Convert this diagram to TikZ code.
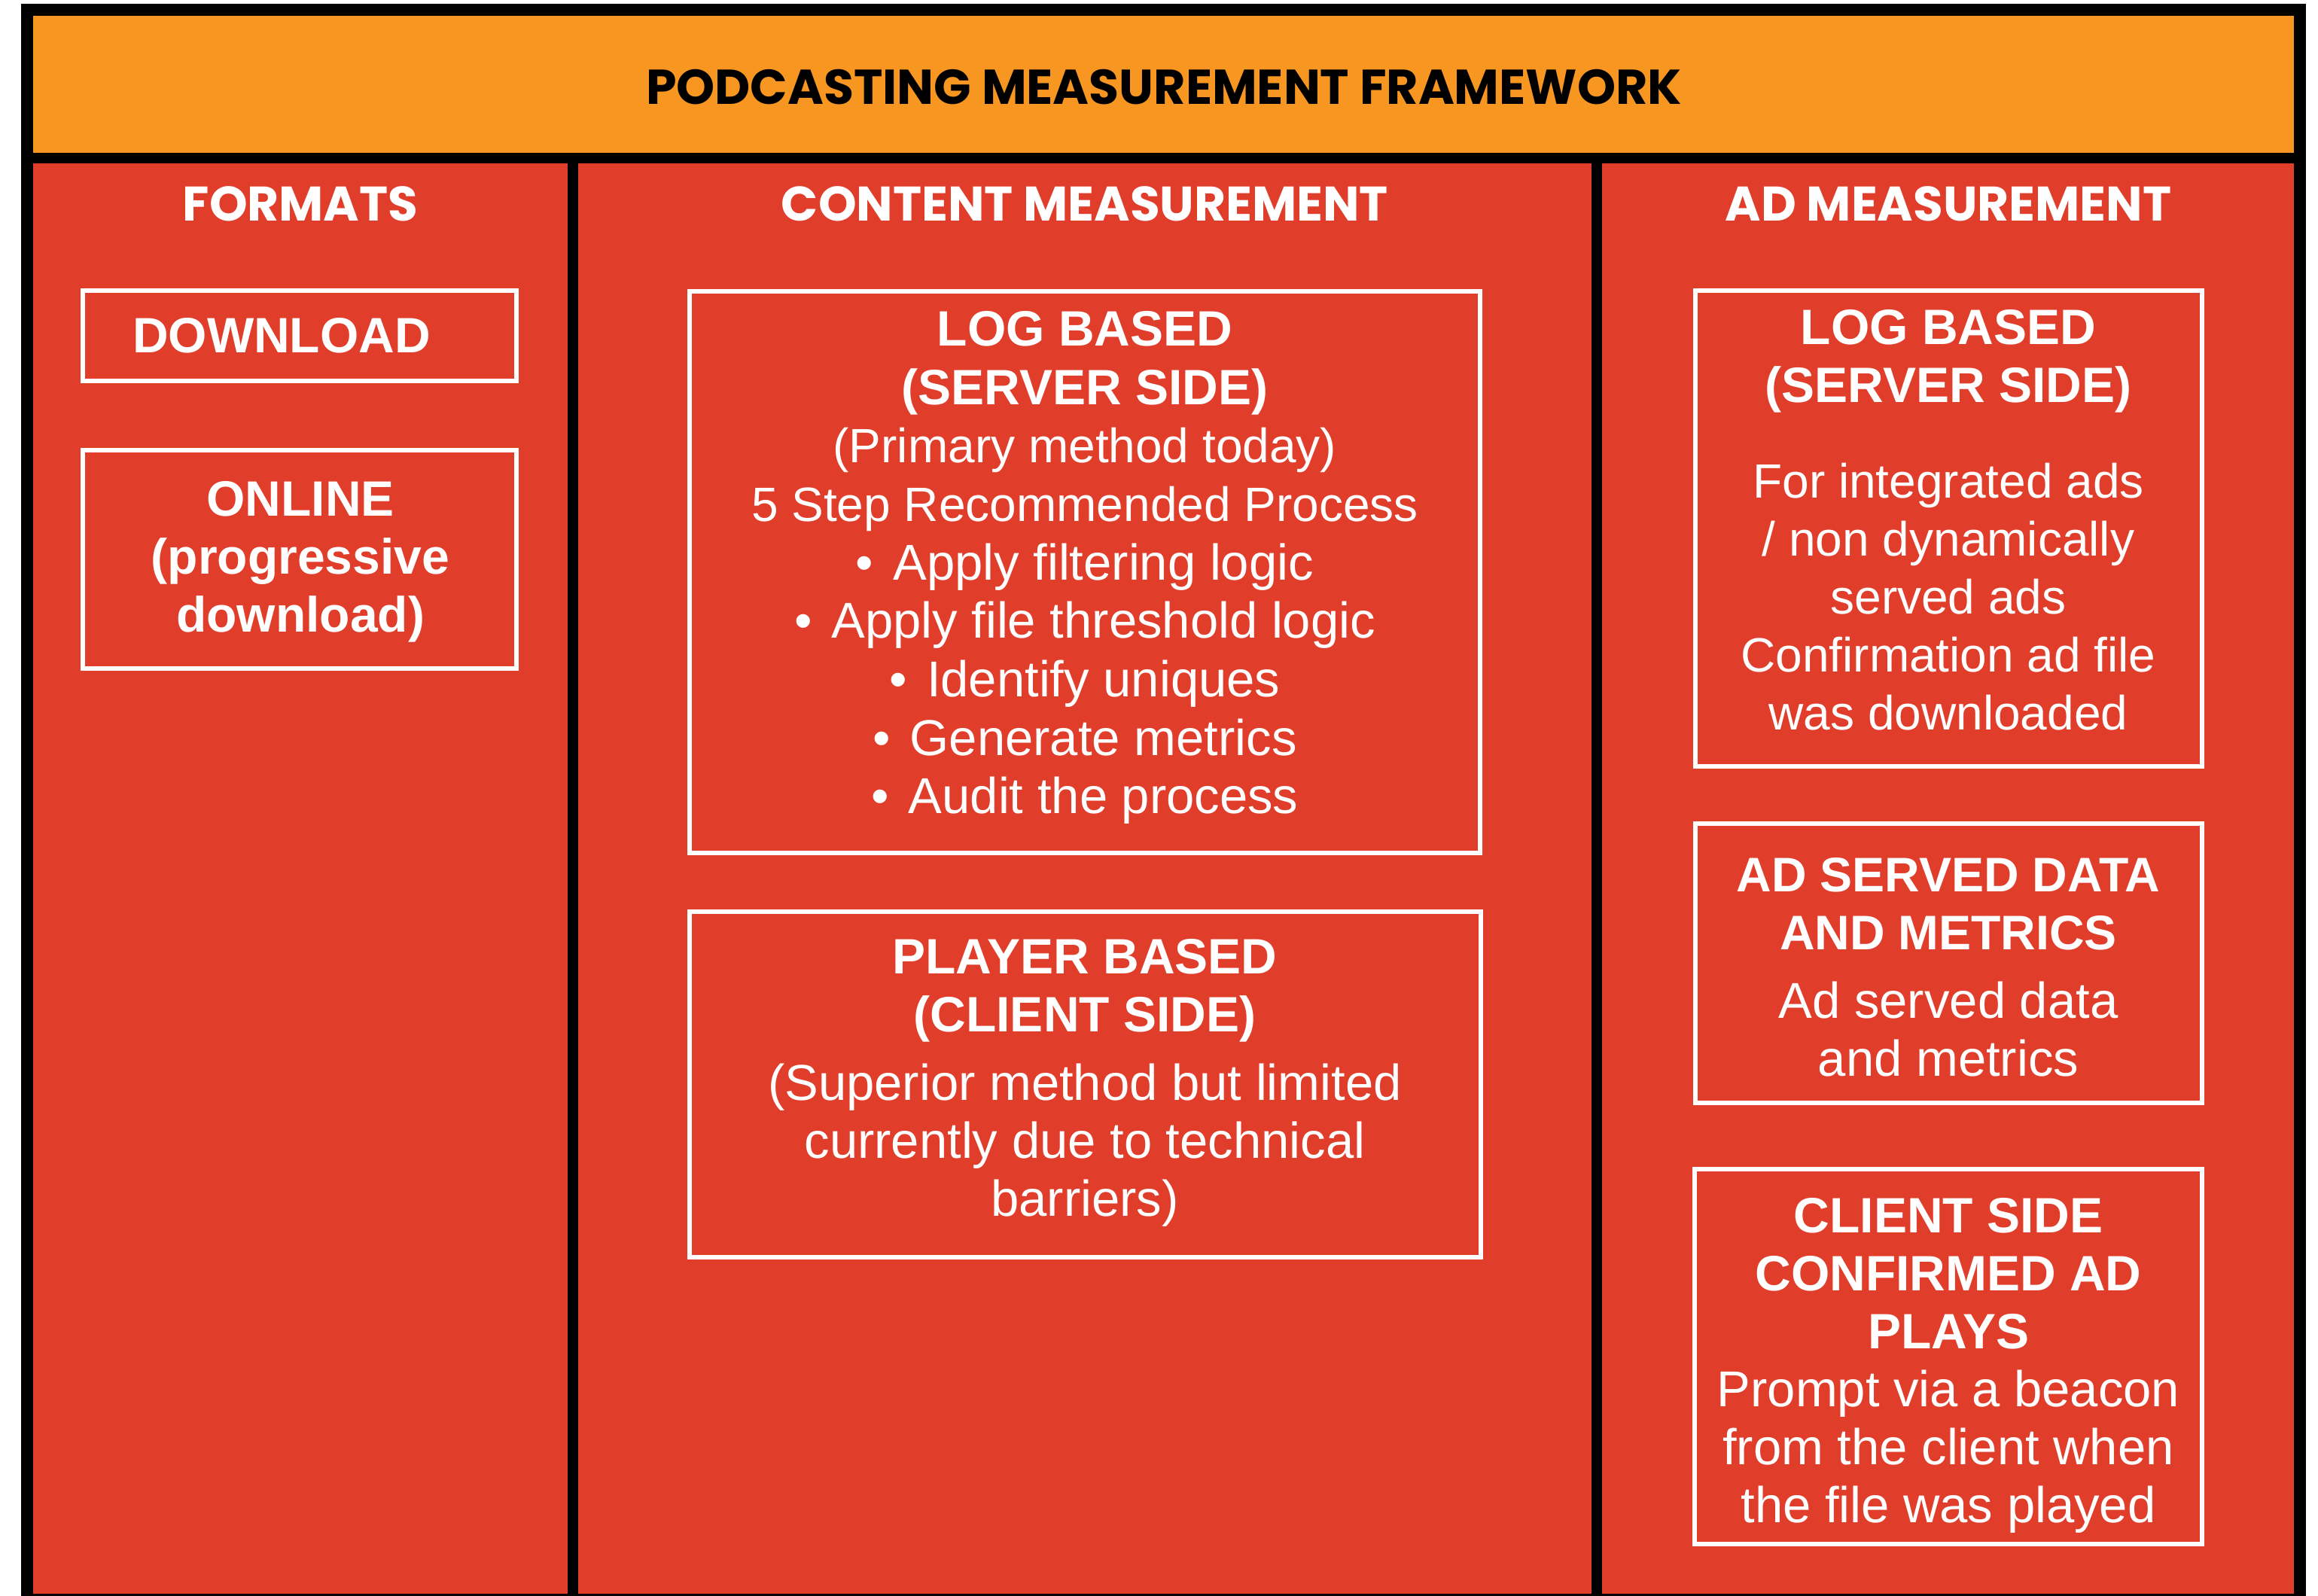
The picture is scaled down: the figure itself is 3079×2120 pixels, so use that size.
\documentclass[tikz,border=0pt]{standalone}
\usepackage{fontspec}
\setmainfont{Liberation Sans}
\newfontfamily\headfont{Poppins}
\definecolor{hdrorange}{RGB}{247,150,33}
\definecolor{colred}{RGB}{225,61,43}
\newcommand\bodyB{\fontsize{66}{\baselineskip}\selectfont\bfseries}
\newcommand\bodyN{\fontsize{64}{\baselineskip}\selectfont}
\newcommand\bodyL{\fontsize{67}{\baselineskip}\selectfont}
\newcommand\bul{\textbullet\hspace{26pt}}
\begin{document}
\begin{tikzpicture}[x=1pt,y=-1pt,
  wbox/.style={draw=white, line width=6pt, inner sep=0pt},
  bodytext/.style={text=white, align=center, inner sep=0pt, font=\fontsize{64}{77}\selectfont},
  colhead/.style={text=white, inner sep=0pt, font=\headfont\bfseries\fontsize{64.5}{70}\selectfont},
]
\useasboundingbox (0,0) rectangle (3079,2120);
\fill[white] (0,0) rectangle (3079,2120);
\clip (0,0) rectangle (3079,2120);
% frame and panels
\fill[black] (27.5,5) rectangle (3063,2135);
\fill[hdrorange] (43.6,21) rectangle (3047,203);
\fill[colred] (43.6,217) rectangle (754,2117);
\fill[colred] (767.5,217) rectangle (2114,2117);
\fill[colred] (2128,217) rectangle (3047,2117);
% title and column headers
\node[inner sep=0pt, font=\headfont\bfseries\fontsize{65}{70}\selectfont] (title) at (1546,116) {PODCASTING MEASUREMENT FRAMEWORK};
\node[colhead] (hformats) at (399,271) {FORMATS};
\node[colhead] (hcontent) at (1441,271) {CONTENT MEASUREMENT};
\node[colhead] (had) at (2588,271) {AD MEASUREMENT};
% boxes
\node[wbox, minimum width=576pt, minimum height=120pt] (dlbox) at (398,446) {};
\node[wbox, minimum width=576pt, minimum height=290pt] (onbox) at (398,743) {};
\node[wbox, minimum width=1050pt, minimum height=746pt] (lbbox) at (1441,760) {};
\node[wbox, minimum width=1051pt, minimum height=459pt] (pbbox) at (1441,1440) {};
\node[wbox, minimum width=673pt, minimum height=632pt] (albbox) at (2588,702) {};
\node[wbox, minimum width=673pt, minimum height=371pt] (asbox) at (2588,1279.5) {};
\node[wbox, minimum width=674pt, minimum height=498pt] (csbox) at (2588,1802) {};
% texts
\node[bodytext] (dltext) at (374,446) {\bodyB DOWNLOAD};
\node[bodytext] (ontext) at (399,746) {\bodyB ONLINE\\ \bodyB (progressive\\ \bodyB download)};
\node[bodytext, font=\fontsize{64}{77.7}\selectfont] (lbtext) at (1441,754) {\bodyB LOG BASED\\ \bodyB (SERVER SIDE)\\ \bodyN (Primary method today)\\ \bodyN 5 Step Recommended Process\\ \bodyL\bul Apply filtering logic\\ \bodyL\bul Apply file threshold logic\\ \bodyL\bul Identify uniques\\ \bodyL\bul Generate metrics\\ \bodyL\bul Audit the process};
\node[bodytext] (pbtext) at (1441,1438) {\bodyB PLAYER BASED\\ \bodyB (CLIENT SIDE)\\[14pt] \bodyL (Superior method but limited\\ \bodyL currently due to technical\\ \bodyL barriers)};
\node[bodytext] (albtext) at (2588,691) {\bodyB LOG BASED\\ \bodyB (SERVER SIDE)\\[50pt] \bodyN For integrated ads\\ \bodyN / non dynamically\\ \bodyN served ads\\ \bodyN Confirmation ad file\\ \bodyN was downloaded};
\node[bodytext] (astext) at (2588,1285) {\fontsize{64.5}{77}\selectfont\bfseries AD SERVED DATA\\ \fontsize{64.5}{77}\selectfont\bfseries AND METRICS\\[14pt] \bodyL Ad served data\\ \bodyL and metrics};
\node[bodytext] (cstext) at (2588,1814) {\bodyB CLIENT SIDE\\ \bodyB CONFIRMED AD\\ \bodyB PLAYS\\ \bodyL Prompt via a beacon\\ \bodyL from the client when\\ \bodyL the file was played};
\end{tikzpicture}
\end{document}
